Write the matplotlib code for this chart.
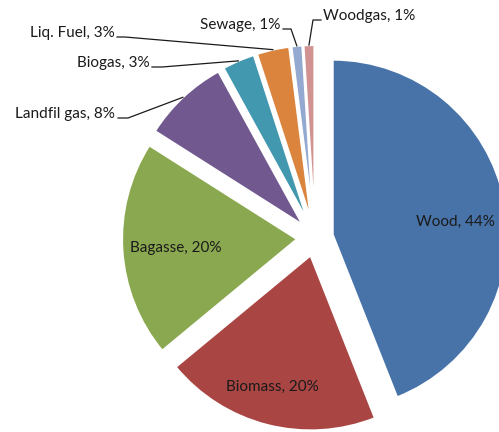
import numpy as np
import matplotlib
matplotlib.use('Agg')
import matplotlib.pyplot as plt

labels = ['Wood', 'Biomass', 'Bagasse', 'Landfil gas', 'Biogas', 'Liq. Fuel', 'Sewage', 'Woodgas']
shares = [44, 20, 20, 8, 3, 3, 1, 1]
colors = ['#4773A9', '#A94543', '#8AA84F', '#71588F', '#4198AF', '#DB843D', '#93A9CF', '#D19392']

W, H = 499, 432
CX, CY = 315, H - 238   # pie centre (pixel coords, y up)
R = 175
EXPLODE = 18            # matplotlib uses explode as an absolute offset

plt.rcParams['font.family'] = ['Lato', 'DejaVu Sans']

fig = plt.figure(figsize=(W / 100, H / 100), dpi=100)
ax = fig.add_axes([0, 0, 1, 1])

ax.pie(shares, colors=colors, startangle=90, counterclock=False,
       radius=R, center=(CX, CY), explode=[EXPLODE] * len(shares),
       wedgeprops=dict(edgecolor='white', linewidth=1.5), frame=True)
ax.set_xlim(0, W)
ax.set_ylim(0, H)
ax.set_aspect('equal')
ax.axis('off')

# mid angles, clockwise from top
cum = np.cumsum([0] + shares[:-1])
mids = (cum + np.array(shares) / 2) / sum(shares) * 360

def arc_point(i):
    th = np.radians(mids[i])
    rr = EXPLODE + R
    return CX + rr * np.sin(th), CY + rr * np.cos(th)

fs = 11
# labels inside the big slices (screen position -> y up)
inside = {0: (455, 222), 1: (272, 387), 2: (176, 248)}
for i, (x, y) in inside.items():
    ax.text(x, H - y, f'{labels[i]}, {shares[i]}%', ha='center', va='center',
            fontsize=fs, color='#1a1a1a')

# outside labels with leader lines: text pos, align, elbow start, elbow end
outside = {
    3: ((115, 114), 'right', (118, 118), (128, 118)),
    4: ((150, 63), 'right', (152, 67), (162, 67)),
    5: ((115, 33), 'right', (117, 37), (125, 37)),
    6: ((280, 25), 'right', (283, 29), (291, 29)),
    7: ((323, 16), 'left', (321, 20), (313, 20)),
}
for i, (tp, ha, p0, p1) in outside.items():
    ax.text(tp[0], H - tp[1], f'{labels[i]}, {shares[i]}%', ha=ha, va='center',
            fontsize=fs, color='#1a1a1a')
    ex, ey = arc_point(i)
    ax.plot([p0[0], p1[0], ex], [H - p0[1], H - p1[1], ey], color='#1a1a1a', lw=0.9)

fig.savefig('out.png', dpi=100)
